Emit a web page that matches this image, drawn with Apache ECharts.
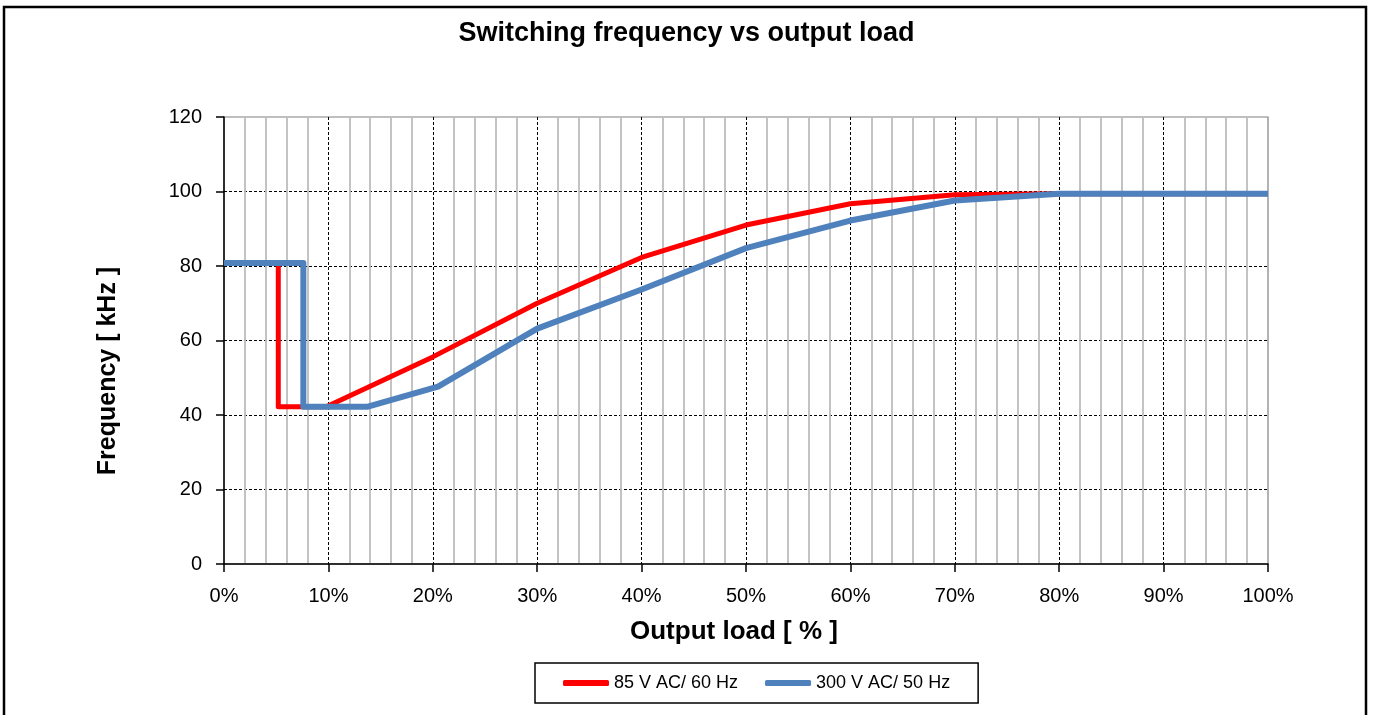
<!DOCTYPE html>
<html>
<head>
<meta charset="utf-8">
<script src="https://cdn.jsdelivr.net/npm/echarts@6/dist/echarts.min.js"></script>
<style>
html,body{margin:0;padding:0;background:#fff;}
#chart{width:1373px;height:715px;}
</style>
</head>
<body>
<div id="chart"></div>
<script>
// Data
const xTicksPct = [0, 10, 20, 30, 40, 50, 60, 70, 80, 90, 100];
const yTicks = [0, 20, 40, 60, 80, 100, 120];

const seriesNames = ['85 V AC/ 60 Hz', '300 V AC/ 50 Hz'];

const loadRed = [0, 5.2, 5.2, 9.8, 20, 30, 40, 50, 60, 70, 80, 100];
const freqRed = [80.8, 80.8, 42.2, 42.2, 55.6, 70.0, 82.3, 91.0, 96.7, 99.1, 99.4, 99.4];

const loadBlue = [0, 7.6, 7.6, 13.7, 20.5, 30, 40, 50, 60, 70, 80, 100];
const freqBlue = [80.8, 80.8, 42.2, 42.2, 47.6, 63.2, 73.7, 84.8, 92.2, 97.6, 99.4, 99.4];

const pairs = (xs, ys) => xs.map((x, i) => [x, ys[i]]);

const chart = echarts.init(document.getElementById('chart'), null, {renderer: 'canvas'});
const labelFont = "'Liberation Sans', Arial, sans-serif";

chart.setOption({
  animation: false,
  backgroundColor: '#fff',
  title: {
    text: 'Switching frequency vs output load',
    left: 'center',
    top: 20,
    padding: 0,
    textStyle: {
      fontFamily: "'Liberation Sans Narrow', 'Liberation Sans', Arial, sans-serif",
      fontWeight: 'bold',
      fontSize: 27,
      color: '#000'
    }
  },
  graphic: [
    {
      type: 'rect',
      shape: {x: 4, y: 7, width: 1362, height: 720},
      style: {fill: 'none', stroke: '#000', lineWidth: 2.5},
      silent: true
    },
    {
      type: 'text',
      x: 108, y: 371,
      rotation: Math.PI / 2,
      style: {
        text: 'Frequency [ kHz ]',
        font: "bold 25px 'Liberation Sans', Arial, sans-serif",
        fill: '#000',
        align: 'center',
        verticalAlign: 'middle'
      },
      silent: true
    },
    {
      type: 'text',
      x: 734, y: 632,
      style: {
        text: 'Output load [ % ]',
        font: "bold 26px 'Liberation Sans', Arial, sans-serif",
        fill: '#000',
        align: 'center',
        verticalAlign: 'middle'
      },
      silent: true
    }
  ],
  legend: {
    data: seriesNames,
    left: 535,
    top: 663,
    padding: [11, 28, 11, 28],
    itemGap: 27,
    itemWidth: 46,
    itemHeight: 6,
    icon: 'roundRect',
    borderColor: '#000',
    borderWidth: 1.5,
    textStyle: {fontFamily: labelFont, fontSize: 18, color: '#000'}
  },
  grid: {
    left: 224, right: 105, top: 117, bottom: 151,
    show: true, borderColor: '#808080', borderWidth: 1.2, backgroundColor: '#fff'
  },
  xAxis: {
    type: 'value',
    min: xTicksPct[0],
    max: xTicksPct[xTicksPct.length - 1],
    interval: 10,
    axisLine: {show: true, onZero: false, lineStyle: {color: '#000', width: 1.5}},
    axisTick: {show: true, length: 8, lineStyle: {color: '#000', width: 1.5}},
    axisLabel: {formatter: '{value}%', margin: 22, fontFamily: labelFont, fontSize: 20, color: '#000'},
    splitLine: {show: true, showMinLine: false, showMaxLine: false, lineStyle: {color: '#000', type: [3, 2], width: 1}},
    minorTick: {show: false, splitNumber: 5},
    minorSplitLine: {show: true, lineStyle: {color: '#bdbdbd', width: 1.8}}
  },
  yAxis: {
    type: 'value',
    min: yTicks[0],
    max: yTicks[yTicks.length - 1],
    interval: 20,
    axisLine: {show: true, lineStyle: {color: '#000', width: 1.5}},
    axisTick: {show: true, length: 8, lineStyle: {color: '#000', width: 1.5}},
    axisLabel: {margin: 22, fontFamily: labelFont, fontSize: 20, color: '#000'},
    splitLine: {show: true, showMinLine: false, showMaxLine: false, lineStyle: {color: '#000', type: [3, 2], width: 1}}
  },
  series: [
    {
      name: seriesNames[0],
      type: 'line',
      data: pairs(loadRed, freqRed),
      showSymbol: false,
      symbol: 'none',
      color: '#ff0000',
      lineStyle: {color: '#ff0000', width: 5, join: 'round', cap: 'butt'},
      z: 3
    },
    {
      name: seriesNames[1],
      type: 'line',
      data: pairs(loadBlue, freqBlue),
      showSymbol: false,
      symbol: 'none',
      color: '#4f81bd',
      lineStyle: {color: '#4f81bd', width: 6, join: 'round', cap: 'butt'},
      z: 4
    }
  ]
});
</script>
</body>
</html>
